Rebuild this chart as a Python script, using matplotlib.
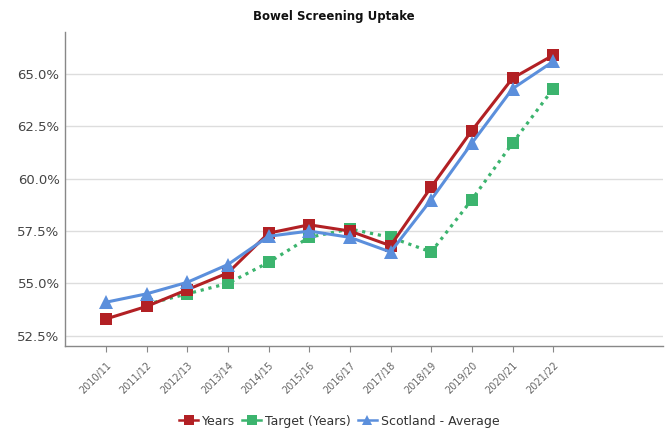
import numpy as np
import matplotlib
matplotlib.use("Agg")
import matplotlib.pyplot as plt
from matplotlib.lines import Line2D
from matplotlib.ticker import FuncFormatter

# === Data ===
years = ["2010/11", "2011/12", "2012/13", "2013/14", "2014/15", "2015/16",
         "2016/17", "2017/18", "2018/19", "2019/20", "2020/21", "2021/22"]
uptake = [53.3, 53.9, 54.7, 55.5, 57.4, 57.8, 57.5, 56.8, 59.6, 62.3, 64.8, 65.9]
target = [np.nan, 54.0, 54.5, 55.0, 56.0, 57.2, 57.6, 57.2, 56.5, 59.0, 61.7, 64.3]
scotland = [54.1, 54.5, 55.05, 55.9, 57.25, 57.5, 57.2, 56.5, 59.0, 61.7, 64.3, 65.6]
y_ticks = [52.5, 55.0, 57.5, 60.0, 62.5, 65.0]

red = "#b22024"
green = "#3cb46e"
blue = "#5b8fdc"

fig = plt.figure(figsize=(6.65, 4.29), dpi=100, facecolor="white")
ax = fig.add_axes([0.098, 0.193, 0.899, 0.732])

x = np.arange(len(years))

# Lines (drawing order: target below, then years, then Scotland on top)
ax.plot(x, target, color=green, linestyle=(0, (1, 1.5)), linewidth=2.3,
        marker="s", markersize=8.5, markeredgewidth=0, zorder=3)
ax.plot(x, uptake, color=red, linewidth=2.2,
        marker="s", markersize=8.5, markeredgewidth=0, zorder=4)
ax.plot(x, scotland, color=blue, linewidth=2.2,
        marker="^", markersize=9.5, markeredgewidth=0, zorder=5)

# Axes limits and ticks
ax.set_xlim(-1, 13.7)
ax.set_ylim(52, 67)
ax.set_yticks(y_ticks)
ax.yaxis.set_major_formatter(FuncFormatter(lambda v, p: f"{v:.1f}%"))
ax.set_xticks(x)
ax.set_xticklabels(years, rotation=45, ha="right", rotation_mode="anchor",
                   fontsize=7, color="#666666")
ax.tick_params(axis="y", length=0, labelsize=9.5, labelcolor="#444444", pad=4)
ax.tick_params(axis="x", length=4, color="#888888", pad=6)

# Grid and frame
ax.grid(axis="y", color="#dddddd", linewidth=1)
ax.set_axisbelow(True)
for side in ["top", "right"]:
    ax.spines[side].set_visible(False)
for side in ["left", "bottom"]:
    ax.spines[side].set_color("#888888")
    ax.spines[side].set_linewidth(1)

# Title
fig.text(0.502, 0.962, "Bowel Screening Uptake", ha="center", va="center",
         fontsize=8.5, fontweight="bold", color="#111111")

# Legend: solid line + marker for every series (as in the reference)
handles = [
    Line2D([], [], color=red, linewidth=1.8, marker="s", markersize=7, markeredgewidth=0),
    Line2D([], [], color=green, linewidth=1.8, marker="s", markersize=7, markeredgewidth=0),
    Line2D([], [], color=blue, linewidth=1.8, marker="^", markersize=7.5, markeredgewidth=0),
]
labels = ["Years", "Target (Years)", "Scotland - Average"]
fig.legend(handles, labels, loc="center", bbox_to_anchor=(0.51, 0.018), ncol=3,
           frameon=False, fontsize=9, labelcolor="#333333", handlelength=1.5,
           handletextpad=0.3, columnspacing=0.6)

plt.savefig("out.png", dpi=100, facecolor="white")
